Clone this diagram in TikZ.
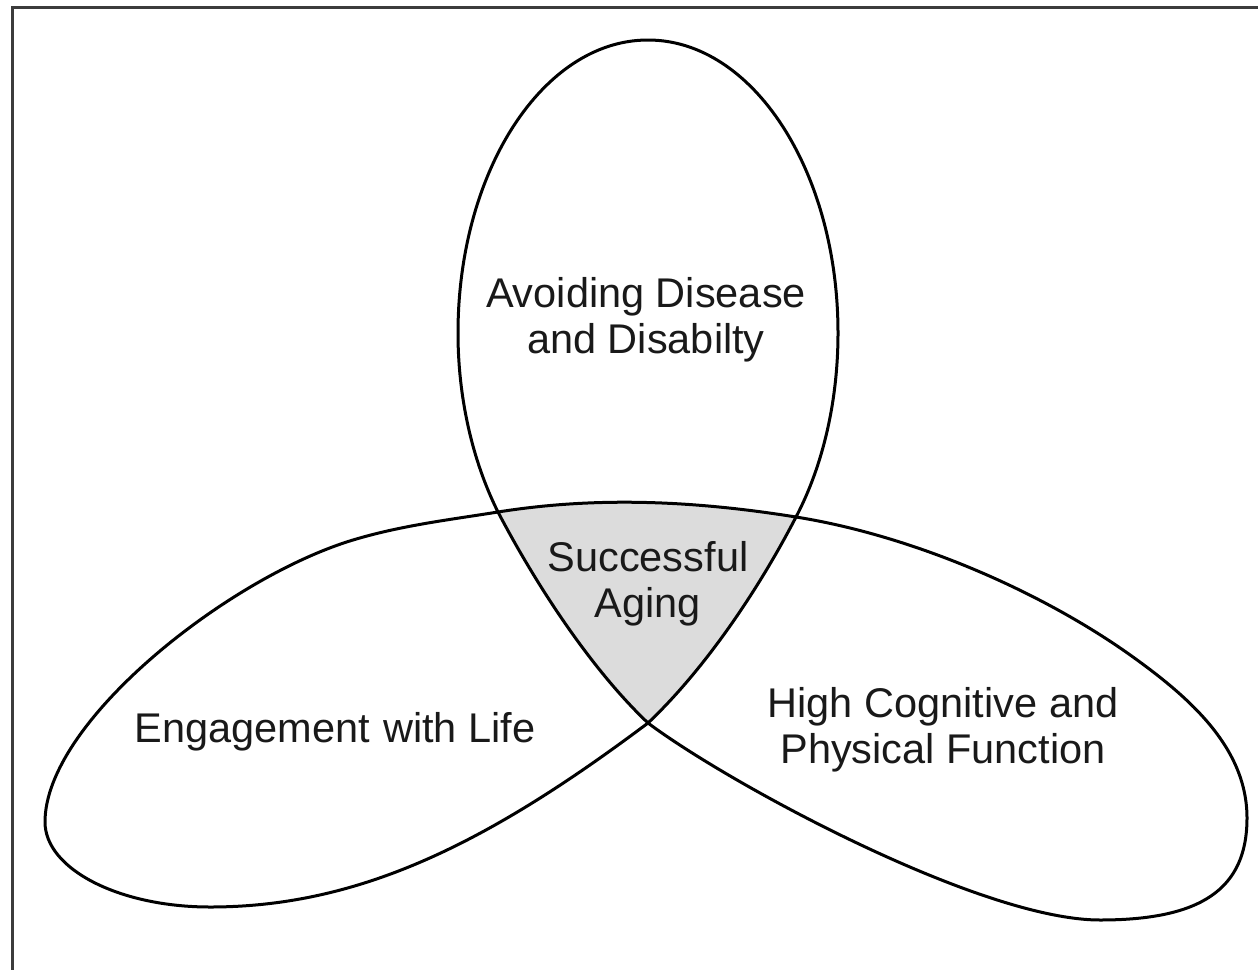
\documentclass[tikz,border=0pt]{standalone}
\usepackage{fontspec}
\setmainfont{Liberation Sans}
\definecolor{shadegray}{RGB}{220,220,220}
\definecolor{framegray}{RGB}{60,60,60}
\tikzset{
  outline/.style={draw=black, line width=3pt, line join=round},
  framebox/.style={draw=framegray, line width=3pt},
  label/.style={inner sep=0pt, align=center, text=black!90, font=\fontsize{41.5}{46}\selectfont}
}
\begin{document}
\begin{tikzpicture}[x=1pt,y=-1pt]
\useasboundingbox (0,0) rectangle (1258,969);
\draw[framebox] (12,970) -- (12,7) -- (1259,7);
% key points of the single trefoil outline
\coordinate (T)   at (648,40);
\coordinate (R1)  at (838,333);
\coordinate (XR)  at (796,517);
\coordinate (C)   at (648,723);
\coordinate (LB)  at (210,907);
\coordinate (LL)  at (45,822);
\coordinate (LU)  at (353,540);
\coordinate (XL)  at (498,512);
\coordinate (RC)  at (1133,657);
\coordinate (RR)  at (1247,818);
\coordinate (RB)  at (1100,920);
\coordinate (L1)  at (458,333);
\def\trefoil{(T) .. controls (752.9,40) and (838,171.3) .. (R1)
 .. controls (838,400) and (823.3,464.9) .. (XR)
 .. controls (759.2,588.2) and (706,668) .. (C)
 .. controls (488,843) and (360,907) .. (LB)
 .. controls (119,907) and (45,869) .. (LL)
 .. controls (45,722) and (228.2,577.7) .. (LU)
 .. controls (401,525.5) and (448,520) .. (XL)
 .. controls (598,496) and (696,501) .. (XR)
 .. controls (915,536) and (1044,593) .. (RC)
 .. controls (1190,698) and (1247,748) .. (RR)
 .. controls (1247,890) and (1200,920) .. (RB)
 .. controls (980,920) and (728,783) .. (C)
 .. controls (590,668) and (535.1,582.9) .. (XL)
 .. controls (472.4,460.8) and (458,397.7) .. (L1)
 .. controls (458,171.3) and (543.1,40) .. (T) -- cycle}
\path[fill=shadegray] \trefoil;
\path[fill=white,even odd rule] \trefoil;
\draw[outline] \trefoil;
\node[label] (avoid) at (646,320) {Avoiding Disease\\and Disabilty};
\node[label] (success) at (648,584) {Successful\\Aging};
\node[label] (engage) at (335,732) {Engagement\hspace{2pt} with Life};
\node[label] (cognit) at (943,730) {High Cognitive and\\Physical Function};
\end{tikzpicture}
\end{document}
